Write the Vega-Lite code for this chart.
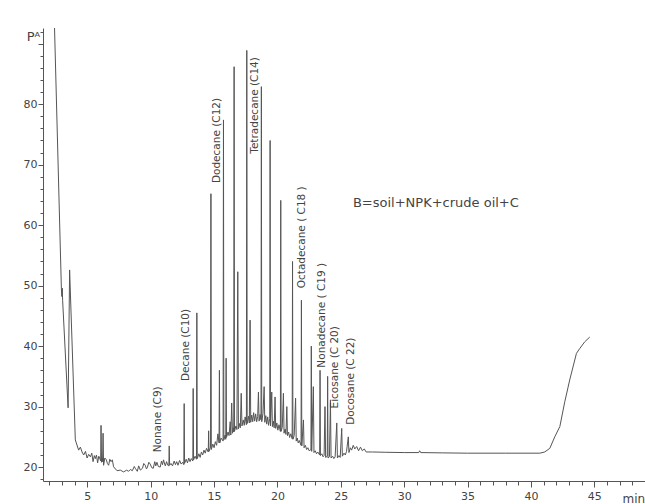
{
  "$schema": "https://vega.github.io/schema/vega-lite/v6.json",
  "width": 602,
  "height": 453,
  "autosize": {"type": "none"},
  "padding": {"left": 43, "top": 28, "right": 0, "bottom": 23},
  "background": "white",
  "config": {"view": {"stroke": null}},
  "datasets": {
    "trace": [
      {"t": 2.38, "v": 95}, {"t": 2.95, "v": 49.5}, {"t": 2.99, "v": 48.2}, {"t": 3.02, "v": 49.6}, {"t": 3.05, "v": 47.5},
      {"t": 3.48, "v": 29.8}, {"t": 3.6, "v": 52.6}, {"t": 4.05, "v": 24.5}, {"t": 4.31, "v": 22.8}, {"t": 4.45, "v": 23.3},
      {"t": 4.58, "v": 22.5}, {"t": 4.71, "v": 22.0}, {"t": 4.85, "v": 22.6}, {"t": 4.98, "v": 21.5}, {"t": 5.1, "v": 22.1},
      {"t": 5.24, "v": 21.7}, {"t": 5.35, "v": 22.3}, {"t": 5.45, "v": 20.9}, {"t": 5.55, "v": 21.9}, {"t": 5.63, "v": 21.4},
      {"t": 5.72, "v": 22.0}, {"t": 5.81, "v": 20.7}, {"t": 5.9, "v": 21.8}, {"t": 5.97, "v": 21.5}, {"t": 6.05, "v": 21.0},
      {"t": 6.08, "v": 26.9}, {"t": 6.12, "v": 20.8}, {"t": 6.16, "v": 21.5}, {"t": 6.2, "v": 20.9}, {"t": 6.24, "v": 25.6},
      {"t": 6.28, "v": 20.3}, {"t": 6.38, "v": 21.5}, {"t": 6.5, "v": 21.2}, {"t": 6.58, "v": 20.6}, {"t": 6.68, "v": 20.3},
      {"t": 6.77, "v": 21.3}, {"t": 6.87, "v": 20.9}, {"t": 6.97, "v": 21.2}, {"t": 7.07, "v": 20.05}, {"t": 7.34, "v": 19.4},
      {"t": 7.6, "v": 19.5}, {"t": 7.86, "v": 19.2}, {"t": 8.1, "v": 19.5}, {"t": 8.25, "v": 19.3}, {"t": 8.39, "v": 19.6},
      {"t": 8.55, "v": 19.4}, {"t": 8.7, "v": 20.1}, {"t": 8.78, "v": 19.8}, {"t": 8.94, "v": 19.3}, {"t": 9.05, "v": 20.2},
      {"t": 9.18, "v": 19.5}, {"t": 9.35, "v": 19.8}, {"t": 9.45, "v": 20.6}, {"t": 9.57, "v": 20.3}, {"t": 9.66, "v": 19.7},
      {"t": 9.73, "v": 19.9}, {"t": 9.85, "v": 20.8}, {"t": 9.96, "v": 20.5}, {"t": 10.08, "v": 19.9}, {"t": 10.2, "v": 19.8},
      {"t": 10.32, "v": 20.9}, {"t": 10.4, "v": 20.2}, {"t": 10.49, "v": 20.8}, {"t": 10.6, "v": 20.1}, {"t": 10.75, "v": 20.0},
      {"t": 10.85, "v": 21.0}, {"t": 10.93, "v": 20.4}, {"t": 11.01, "v": 21.2}, {"t": 11.1, "v": 20.5}, {"t": 11.15, "v": 20.2},
      {"t": 11.25, "v": 20.9}, {"t": 11.35, "v": 20.3}, {"t": 11.43, "v": 20.2}, {"t": 11.46, "v": 23.5}, {"t": 11.49, "v": 20.3},
      {"t": 11.6, "v": 20.6}, {"t": 11.72, "v": 20.2}, {"t": 11.85, "v": 21.0}, {"t": 11.95, "v": 20.4}, {"t": 12.05, "v": 20.9},
      {"t": 12.15, "v": 20.3}, {"t": 12.28, "v": 21.1}, {"t": 12.4, "v": 20.5}, {"t": 12.52, "v": 20.8}, {"t": 12.61, "v": 20.4},
      {"t": 12.64, "v": 30.5}, {"t": 12.67, "v": 20.6}, {"t": 12.8, "v": 21.3}, {"t": 12.9, "v": 20.7}, {"t": 13.0, "v": 21.5},
      {"t": 13.1, "v": 20.9}, {"t": 13.2, "v": 21.4}, {"t": 13.32, "v": 21.0}, {"t": 13.35, "v": 33.0}, {"t": 13.38, "v": 21.2},
      {"t": 13.5, "v": 21.8}, {"t": 13.61, "v": 21.3}, {"t": 13.64, "v": 45.5}, {"t": 13.67, "v": 21.4}, {"t": 13.8, "v": 22.2},
      {"t": 13.9, "v": 21.6}, {"t": 14.0, "v": 22.5}, {"t": 14.1, "v": 22.0}, {"t": 14.2, "v": 22.8}, {"t": 14.3, "v": 22.3},
      {"t": 14.4, "v": 23.1}, {"t": 14.54, "v": 22.5}, {"t": 14.57, "v": 26.0}, {"t": 14.6, "v": 22.6}, {"t": 14.72, "v": 23.3},
      {"t": 14.75, "v": 65.2}, {"t": 14.78, "v": 22.9}, {"t": 14.9, "v": 23.8}, {"t": 15.0, "v": 23.2}, {"t": 15.1, "v": 24.2},
      {"t": 15.2, "v": 23.6}, {"t": 15.3, "v": 25.5}, {"t": 15.39, "v": 24.0}, {"t": 15.42, "v": 36.0}, {"t": 15.45, "v": 24.0},
      {"t": 15.55, "v": 24.8}, {"t": 15.71, "v": 24.3}, {"t": 15.74, "v": 77.4}, {"t": 15.77, "v": 24.5}, {"t": 15.87, "v": 25.3},
      {"t": 15.92, "v": 24.6}, {"t": 15.95, "v": 38.0}, {"t": 15.98, "v": 24.9}, {"t": 16.1, "v": 25.8}, {"t": 16.18, "v": 25.2},
      {"t": 16.27, "v": 27.5}, {"t": 16.32, "v": 25.3}, {"t": 16.39, "v": 30.6}, {"t": 16.45, "v": 25.6}, {"t": 16.52, "v": 26.5},
      {"t": 16.55, "v": 25.8}, {"t": 16.58, "v": 86.2}, {"t": 16.61, "v": 25.9}, {"t": 16.72, "v": 26.8}, {"t": 16.8, "v": 26.2},
      {"t": 16.87, "v": 52.3}, {"t": 16.92, "v": 26.3}, {"t": 17.0, "v": 27.2}, {"t": 17.07, "v": 26.5}, {"t": 17.14, "v": 32.2},
      {"t": 17.2, "v": 26.8}, {"t": 17.3, "v": 27.8}, {"t": 17.38, "v": 26.9}, {"t": 17.45, "v": 28.3}, {"t": 17.55, "v": 27.0},
      {"t": 17.58, "v": 88.9}, {"t": 17.61, "v": 27.2}, {"t": 17.72, "v": 28.4}, {"t": 17.78, "v": 27.3}, {"t": 17.84, "v": 44.3},
      {"t": 17.89, "v": 27.4}, {"t": 17.97, "v": 28.6}, {"t": 18.05, "v": 27.5}, {"t": 18.12, "v": 29.0}, {"t": 18.2, "v": 27.6},
      {"t": 18.28, "v": 28.8}, {"t": 18.36, "v": 27.5}, {"t": 18.44, "v": 28.4}, {"t": 18.5, "v": 32.4}, {"t": 18.55, "v": 27.6},
      {"t": 18.63, "v": 28.7}, {"t": 18.7, "v": 27.8}, {"t": 18.73, "v": 82.9}, {"t": 18.76, "v": 27.5}, {"t": 18.86, "v": 28.9},
      {"t": 18.95, "v": 33.3}, {"t": 19.0, "v": 27.4}, {"t": 19.08, "v": 28.5}, {"t": 19.15, "v": 27.1}, {"t": 19.23, "v": 28.3},
      {"t": 19.3, "v": 26.9}, {"t": 19.39, "v": 28.0}, {"t": 19.42, "v": 74.0}, {"t": 19.45, "v": 26.8}, {"t": 19.55, "v": 32.4},
      {"t": 19.6, "v": 26.7}, {"t": 19.68, "v": 27.6}, {"t": 19.74, "v": 26.5}, {"t": 19.81, "v": 31.6}, {"t": 19.86, "v": 26.4},
      {"t": 19.95, "v": 27.3}, {"t": 20.03, "v": 26.1}, {"t": 20.12, "v": 27.0}, {"t": 20.23, "v": 25.9}, {"t": 20.26, "v": 64.1},
      {"t": 20.29, "v": 25.9}, {"t": 20.38, "v": 26.6}, {"t": 20.47, "v": 32.2}, {"t": 20.52, "v": 25.6}, {"t": 20.6, "v": 26.3},
      {"t": 20.67, "v": 25.4}, {"t": 20.74, "v": 30.0}, {"t": 20.79, "v": 25.2}, {"t": 20.88, "v": 25.8}, {"t": 20.96, "v": 24.9},
      {"t": 21.05, "v": 25.5}, {"t": 21.16, "v": 24.7}, {"t": 21.19, "v": 54.0}, {"t": 21.22, "v": 24.6}, {"t": 21.32, "v": 25.2},
      {"t": 21.43, "v": 31.4}, {"t": 21.48, "v": 24.3}, {"t": 21.56, "v": 24.8}, {"t": 21.64, "v": 24.0}, {"t": 21.72, "v": 24.4},
      {"t": 21.86, "v": 23.6}, {"t": 21.89, "v": 47.6}, {"t": 21.92, "v": 23.5}, {"t": 22.05, "v": 27.8}, {"t": 22.1, "v": 23.2},
      {"t": 22.2, "v": 23.6}, {"t": 22.3, "v": 22.9}, {"t": 22.4, "v": 23.2}, {"t": 22.5, "v": 22.7}, {"t": 22.64, "v": 22.9},
      {"t": 22.67, "v": 40.0}, {"t": 22.7, "v": 22.6}, {"t": 22.83, "v": 33.3}, {"t": 22.88, "v": 22.4}, {"t": 22.98, "v": 22.7},
      {"t": 23.08, "v": 22.2}, {"t": 23.18, "v": 22.5}, {"t": 23.33, "v": 22.0}, {"t": 23.36, "v": 36.0}, {"t": 23.39, "v": 21.9},
      {"t": 23.5, "v": 22.2}, {"t": 23.6, "v": 21.7}, {"t": 23.68, "v": 21.9}, {"t": 23.75, "v": 30.0}, {"t": 23.8, "v": 21.6},
      {"t": 23.93, "v": 21.8}, {"t": 23.96, "v": 35.0}, {"t": 23.99, "v": 21.5}, {"t": 24.1, "v": 21.7}, {"t": 24.18, "v": 31.0},
      {"t": 24.23, "v": 21.5}, {"t": 24.35, "v": 21.8}, {"t": 24.45, "v": 21.4}, {"t": 24.55, "v": 21.7}, {"t": 24.68, "v": 27.3},
      {"t": 24.73, "v": 21.5}, {"t": 24.85, "v": 21.9}, {"t": 24.95, "v": 21.6}, {"t": 25.07, "v": 26.4}, {"t": 25.12, "v": 21.8},
      {"t": 25.25, "v": 22.3}, {"t": 25.35, "v": 22.0}, {"t": 25.45, "v": 22.6}, {"t": 25.59, "v": 25.0}, {"t": 25.64, "v": 22.4},
      {"t": 25.75, "v": 23.2}, {"t": 25.85, "v": 22.8}, {"t": 25.98, "v": 23.6}, {"t": 26.1, "v": 23.0}, {"t": 26.25, "v": 23.4},
      {"t": 26.4, "v": 22.7}, {"t": 26.55, "v": 23.3}, {"t": 26.7, "v": 22.7}, {"t": 26.85, "v": 23.0}, {"t": 27.0, "v": 22.5},
      {"t": 27.5, "v": 22.5}, {"t": 28.5, "v": 22.45}, {"t": 30.0, "v": 22.4}, {"t": 31.15, "v": 22.4}, {"t": 31.22, "v": 22.7},
      {"t": 31.3, "v": 22.4}, {"t": 33.0, "v": 22.35}, {"t": 35.0, "v": 22.3}, {"t": 38.0, "v": 22.3}, {"t": 40.7, "v": 22.3},
      {"t": 41.09, "v": 22.5}, {"t": 41.49, "v": 23.1}, {"t": 41.88, "v": 25.0}, {"t": 42.28, "v": 26.7}, {"t": 42.67, "v": 30.8},
      {"t": 43.06, "v": 34.4}, {"t": 43.59, "v": 38.8}, {"t": 43.85, "v": 39.6}, {"t": 44.24, "v": 40.7}, {"t": 44.64, "v": 41.5}
    ],
    "labels": [
      {"t": 10.56, "v": 27.9, "name": "Nonane  (C9)"},
      {"t": 12.8, "v": 40.2, "name": "Decane (C10)"},
      {"t": 15.24, "v": 74.0, "name": "Dodecane   (C12)"},
      {"t": 18.2, "v": 79.8, "name": "Tetradecane (C14)"},
      {"t": 21.9, "v": 58.0, "name": "Octadecane ( C18 )"},
      {"t": 23.5, "v": 45.1, "name": "Nonadecane ( C19 )"},
      {"t": 24.55, "v": 36.5, "name": "Eicosane (C 20)"},
      {"t": 25.78, "v": 34.2, "name": "Docosane (C 22)"}
    ],
    "note": [
      {"t": 32.5, "v": 63.6, "name": "B=soil+NPK+crude oil+C"}
    ]
  },
  "layer": [
    {
      "data": {"name": "trace"},
      "mark": {"type": "line", "color": "#555", "strokeWidth": 1, "clip": true, "interpolate": "linear"},
      "encoding": {
        "x": {
          "field": "t", "type": "quantitative", "sort": null,
          "scale": {"domain": [1.5, 49.0], "nice": false, "zero": false},
          "axis": {
            "values": [2,3,4,5,6,7,8,9,10,11,12,13,14,15,16,17,18,19,20,21,22,23,24,25,26,27,28,29,30,31,32,33,34,35,36,37,38,39,40,41,42,43,44,45,46,47,48],
            "tickCount": 200,
            "format": "d",
            "labelExpr": "datum.value % 5 === 0 && datum.value <= 45 ? datum.label : ''",
            "tickSize": {"condition": {"test": "datum.value % 5 === 0", "value": 6}, "value": 4},
            "labelOverlap": false, "labelFlush": false,
            "labelPadding": 3, "labelFontSize": 11, "labelFont": "DejaVu Sans", "labelColor": "#444",
            "domainColor": "#555", "tickColor": "#555", "grid": false,
            "title": "min", "titleX": 579, "titleY": 17, "titleAlign": "left", "titleBaseline": "middle",
            "titleFontWeight": "normal", "titleFontSize": 12, "titleColor": "#444", "titleFont": "DejaVu Sans"
          }
        },
        "y": {
          "field": "v", "type": "quantitative",
          "scale": {"domain": [17.7, 92.6], "nice": false, "zero": false},
          "axis": {
            "values": [18,20,22,24,26,28,30,32,34,36,38,40,42,44,46,48,50,52,54,56,58,60,62,64,66,68,70,72,74,76,78,80,82,84,86,88,90,92],
            "tickCount": 200,
            "format": "d",
            "labelExpr": "datum.value % 10 === 0 && datum.value <= 80 ? datum.label : ''",
            "tickSize": {"condition": {"test": "datum.value % 10 === 0", "value": 5}, "value": 3},
            "labelOverlap": false, "labelFlush": false,
            "labelPadding": 1, "labelFontSize": 11, "labelFont": "DejaVu Sans", "labelColor": "#444",
            "domainColor": "#555", "tickColor": "#555", "grid": false,
            "title": "Pᴬ", "titleAngle": 0, "titleX": -10, "titleY": 8, "titleAlign": "center", "titleBaseline": "middle",
            "titleFontWeight": "normal", "titleFontSize": 13, "titleColor": "#444", "titleFont": "DejaVu Sans"
          }
        }
      }
    },
    {
      "data": {"name": "labels"},
      "mark": {"type": "text", "angle": 270, "align": "center", "baseline": "middle", "font": "DejaVu Sans", "fontSize": 10.5, "color": "#444"},
      "encoding": {
        "x": {"field": "t", "type": "quantitative"},
        "y": {"field": "v", "type": "quantitative"},
        "text": {"field": "name"}
      }
    },
    {
      "data": {"name": "note"},
      "mark": {"type": "text", "align": "center", "baseline": "middle", "font": "DejaVu Sans", "fontSize": 13, "letterSpacing": 2, "color": "#444"},
      "encoding": {
        "x": {"field": "t", "type": "quantitative"},
        "y": {"field": "v", "type": "quantitative"},
        "text": {"field": "name"}
      }
    }
  ]
}
